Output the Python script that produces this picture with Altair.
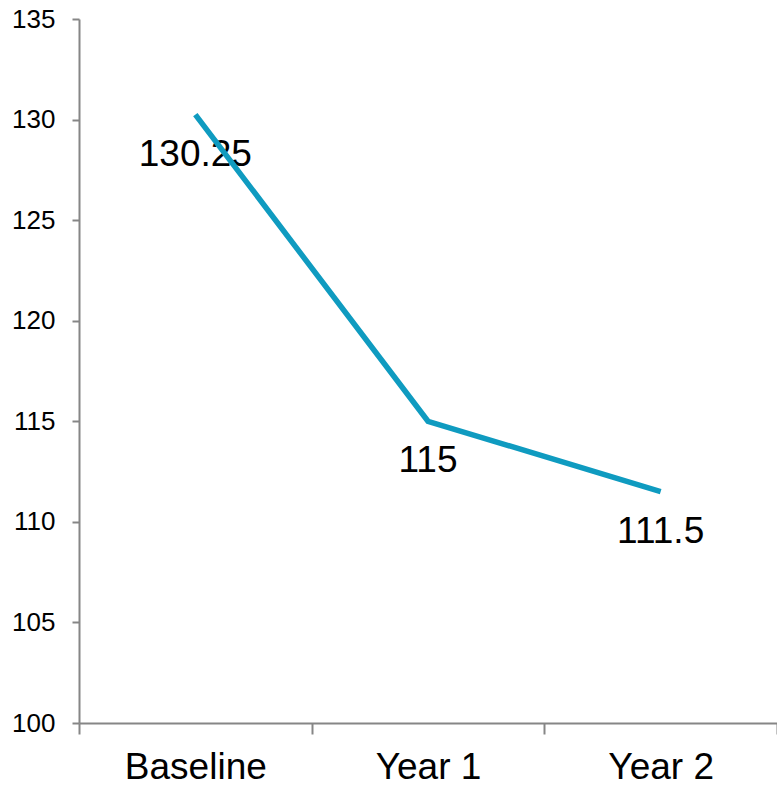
import altair as alt
import pandas as pd

categories = ["Baseline", "Year 1", "Year 2"]
values = [130.25, 115, 111.5]
labels = ["130.25", "115", "111.5"]
y_ticks = [100, 105, 110, 115, 120, 125, 130, 135]

df = pd.DataFrame({"cat": categories, "val": values, "lab": labels})

FONT = "Liberation Sans"
GREY = "#868686"

x_enc = alt.X(
    "cat:N",
    sort=categories,
    bandPosition=0.5,
    scale=alt.Scale(type="band", paddingInner=0, paddingOuter=0),
    axis=alt.Axis(
        title=None,
        labelAngle=0,
        labelFontSize=37,
        labelFont=FONT,
        labelColor="#000000",
        labelPadding=15,
        tickBand="extent",
        tickSize=11,
        tickColor=GREY,
        domainColor=GREY,
        domainWidth=2,
        tickWidth=2,
        grid=False,
    ),
)
y_enc = alt.Y(
    "val:Q",
    scale=alt.Scale(domain=[100, 135], nice=False, zero=False),
    axis=alt.Axis(
        title=None,
        values=y_ticks,
        labelFontSize=26,
        labelFont=FONT,
        labelColor="#000000",
        labelPadding=17,
        tickSize=7,
        tickColor=GREY,
        domainColor=GREY,
        domainWidth=2,
        tickWidth=2,
        grid=False,
    ),
)

text = alt.Chart(df).mark_text(
    fontSize=37, font=FONT, color="#000000", baseline="middle", align="center", dy=40
).encode(x=x_enc, y=y_enc, text="lab:N")
line = alt.Chart(df).mark_line(color="#0F9BC0", strokeWidth=5.5).encode(x=x_enc, y=y_enc)

chart = (
    alt.layer(text, line)
    .properties(
        width=698,
        height=704,
        background="#ffffff",
        autosize=alt.AutoSizeParams(type="none"),
        padding={"left": 79, "top": 19, "right": 0, "bottom": 62},
    )
    .configure_view(stroke=None, strokeWidth=0)
    .configure_axis(grid=False)
)

chart.save("out.html", embed_options={"renderer": "svg", "actions": False})
